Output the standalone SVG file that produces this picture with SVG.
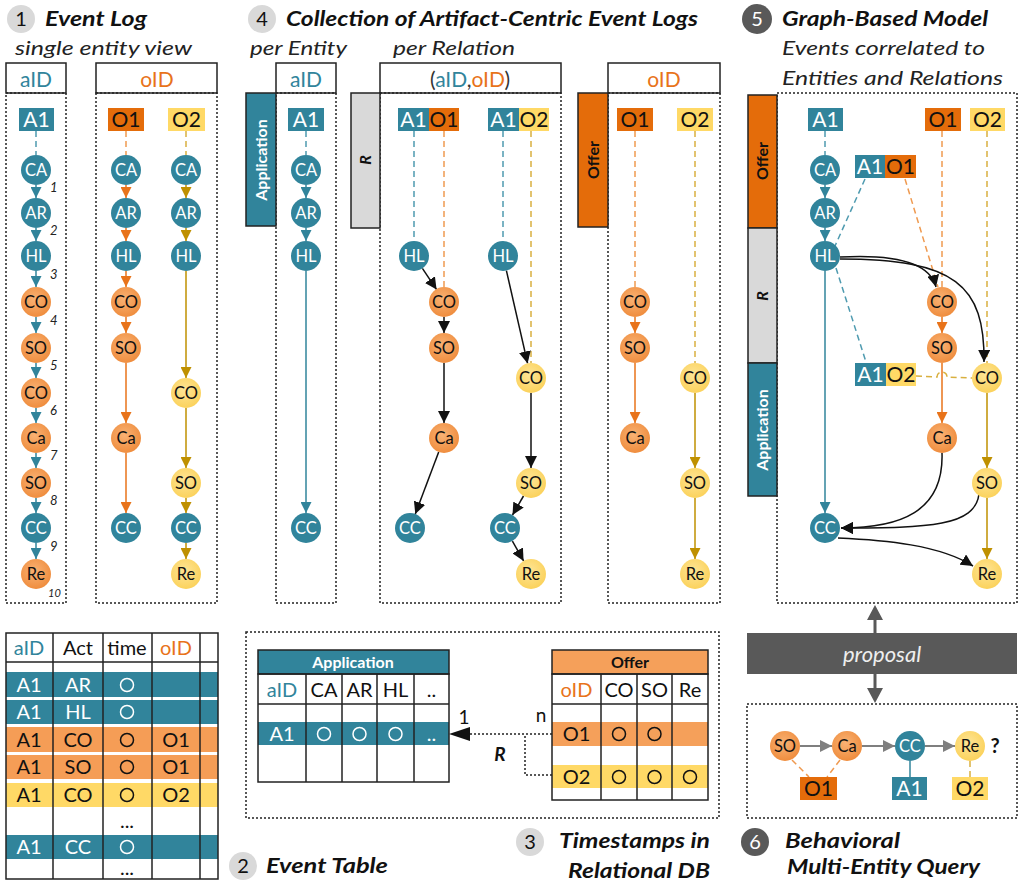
<svg xmlns="http://www.w3.org/2000/svg" width="1024" height="892" viewBox="0 0 1024 892">
<defs>
<style>
text{font-family:Lato,"Liberation Sans",sans-serif}
.ttl{font-size:20px;font-weight:bold;font-style:italic;fill:#111}
.sub{font-size:19px;font-style:italic;fill:#222}
.nt{font-size:16.5px;text-anchor:middle}
.lb{font-size:21px;text-anchor:middle}
.hd{font-size:21px;text-anchor:middle}
.tb{font-size:20px;text-anchor:middle}
.num{font-size:13px;font-style:italic;fill:#222}
.w{fill:#fff}.k{fill:#111}.ct{fill:#31849b}.co{fill:#e8731a}
.dot{fill:none;stroke:#222;stroke-width:1.5;stroke-dasharray:2 2}
.box{fill:#fff;stroke:#222;stroke-width:1.5}
.nT{fill:#31849b}.nO{fill:url(#gO)}.nY{fill:url(#gY)}
.lT{fill:#31849b}.lO{fill:#e46c0a}.lY{fill:#ffd966}
.aT{stroke:#31849b;stroke-width:1.5;fill:none;marker-end:url(#mT)}
.aO{stroke:#e8731a;stroke-width:1.5;fill:none;marker-end:url(#mO)}
.aY{stroke:#bf9000;stroke-width:1.5;fill:none;marker-end:url(#mY)}
.aK{stroke:#111;stroke-width:1.5;fill:none;marker-end:url(#mK)}
.aG{stroke:#7f7f7f;stroke-width:2;fill:none;marker-end:url(#mG)}
.dT{stroke:#4f9bb0;stroke-width:1.5;fill:none;stroke-dasharray:6 4}
.dO{stroke:#ef9a50;stroke-width:1.5;fill:none;stroke-dasharray:6 4}
.dY{stroke:#d9b040;stroke-width:1.5;fill:none;stroke-dasharray:6 4}
.bar{stroke:#222;stroke-width:1.5}
.bt{font-size:16px;font-weight:bold;text-anchor:middle}
.cir{fill:none;stroke-width:1.5}
</style>
<radialGradient id="gO" cx="0.45" cy="0.4" r="0.6"><stop offset="0" stop-color="#f9b274"/><stop offset="1" stop-color="#ef8d3e"/></radialGradient>
<radialGradient id="gY" cx="0.45" cy="0.4" r="0.6"><stop offset="0" stop-color="#fee596"/><stop offset="1" stop-color="#fbd25c"/></radialGradient>
<marker id="mT" viewBox="0 0 10 10" refX="10" refY="5" markerWidth="11" markerHeight="11" markerUnits="userSpaceOnUse" orient="auto"><path d="M0,0 L10,5 L0,10 z" fill="#31849b"/></marker>
<marker id="mO" viewBox="0 0 10 10" refX="10" refY="5" markerWidth="11" markerHeight="11" markerUnits="userSpaceOnUse" orient="auto"><path d="M0,0 L10,5 L0,10 z" fill="#e8731a"/></marker>
<marker id="mY" viewBox="0 0 10 10" refX="10" refY="5" markerWidth="11" markerHeight="11" markerUnits="userSpaceOnUse" orient="auto"><path d="M0,0 L10,5 L0,10 z" fill="#bf9000"/></marker>
<marker id="mK" viewBox="0 0 10 10" refX="10" refY="5" markerWidth="12" markerHeight="12" markerUnits="userSpaceOnUse" orient="auto"><path d="M0,0 L10,5 L0,10 z" fill="#111"/></marker>
<marker id="mG" viewBox="0 0 10 10" refX="10" refY="5" markerWidth="12" markerHeight="12" markerUnits="userSpaceOnUse" orient="auto"><path d="M0,0 L10,5 L0,10 z" fill="#7f7f7f"/></marker>
</defs>
<rect width="1024" height="892" fill="#fff"/>

<!-- ===== Section 1 frame ===== -->
<g id="sec1">
<circle cx="21" cy="19" r="14" fill="#d9d9d9"/>
<text x="21" y="26" font-size="20" text-anchor="middle" class="k">1</text>
<text x="45" y="26" class="ttl" textLength="102" lengthAdjust="spacingAndGlyphs">Event Log</text>
<text x="15" y="55" class="sub" textLength="177" lengthAdjust="spacingAndGlyphs">single entity view</text>
<rect x="6" y="63" width="60" height="30" class="box"/>
<text x="36" y="87" class="hd ct">aID</text>
<rect x="6" y="93" width="60" height="510" class="dot"/>
<rect x="96" y="63" width="121" height="30" class="box"/>
<text x="157" y="87" class="hd co">oID</text>
<rect x="96" y="93" width="121" height="510" class="dot"/>
<g class="num">
<text x="50" y="192">1</text><text x="50" y="235">2</text><text x="50" y="279">3</text>
<text x="50" y="325">4</text><text x="50" y="370">5</text><text x="50" y="415">6</text>
<text x="50" y="460">7</text><text x="50" y="505">8</text><text x="50" y="551">9</text>
<text x="48" y="597" font-size="11">10</text>
</g>
</g>

<!-- ===== Section 4 frame ===== -->
<g id="sec4">
<circle cx="262" cy="19" r="14" fill="#d9d9d9"/>
<text x="262" y="26" font-size="20" text-anchor="middle" class="k">4</text>
<text x="286" y="26" class="ttl" textLength="412" lengthAdjust="spacingAndGlyphs">Collection of Artifact-Centric Event Logs</text>
<text x="250" y="55" class="sub" textLength="97" lengthAdjust="spacingAndGlyphs">per Entity</text>
<text x="393" y="55" class="sub" textLength="122" lengthAdjust="spacingAndGlyphs">per Relation</text>
<rect x="276" y="63" width="60" height="30" class="box"/>
<text x="306" y="87" class="hd ct">aID</text>
<rect x="276" y="93" width="60" height="510" class="dot"/>
<rect x="246" y="93" width="30" height="133" class="bar" fill="#31849b"/>
<text transform="translate(261,160) rotate(-90)" y="6" class="bt w">Application</text>
<rect x="380" y="63" width="181" height="30" class="box"/>
<text x="470" y="87" class="hd"><tspan fill="#333">(</tspan><tspan class="ct">aID</tspan><tspan fill="#333">,</tspan><tspan class="co">oID</tspan><tspan fill="#333">)</tspan></text>
<rect x="380" y="93" width="181" height="510" class="dot"/>
<rect x="351" y="93" width="29" height="135" class="bar" fill="#d9d9d9"/>
<text transform="translate(365,160) rotate(-90)" y="6" class="bt k" font-style="italic">R</text>
<rect x="608" y="63" width="112" height="30" class="box"/>
<text x="664" y="87" class="hd co">oID</text>
<rect x="608" y="93" width="112" height="510" class="dot"/>
<rect x="578" y="93" width="30" height="134" class="bar" fill="#e46c0a"/>
<text transform="translate(593,160) rotate(-90)" y="6" class="bt k">Offer</text>
</g>

<!-- ===== Section 5 frame ===== -->
<g id="sec5">
<circle cx="757" cy="19" r="15" fill="#595959"/>
<text x="757" y="26" font-size="20" text-anchor="middle" class="w">5</text>
<text x="782" y="26" class="ttl" textLength="206" lengthAdjust="spacingAndGlyphs">Graph-Based Model</text>
<text x="782" y="55" class="sub" textLength="203" lengthAdjust="spacingAndGlyphs">Events correlated to</text>
<text x="782" y="85" class="sub" textLength="221" lengthAdjust="spacingAndGlyphs">Entities and Relations</text>
<rect x="777" y="93" width="240" height="510" class="dot"/>
<rect x="748" y="95" width="29" height="133" class="bar" fill="#e46c0a"/>
<text transform="translate(762,161) rotate(-90)" y="6" class="bt k">Offer</text>
<rect x="748" y="228" width="29" height="135" class="bar" fill="#d9d9d9"/>
<text transform="translate(762,296) rotate(-90)" y="6" class="bt k" font-style="italic">R</text>
<rect x="748" y="363" width="29" height="133" class="bar" fill="#31849b"/>
<text transform="translate(762,430) rotate(-90)" y="6" class="bt w">Application</text>
</g>

<!-- ===== proposal ===== -->
<g id="proposal">
<rect x="747" y="633" width="270" height="41" fill="#595959"/>
<text x="882" y="662" font-size="22" font-style="italic" text-anchor="middle" fill="#eee">proposal</text>
<line x1="875" y1="618" x2="875" y2="633" stroke="#595959" stroke-width="3"/>
<polygon points="875,605 867,620 883,620" fill="#595959"/>
<line x1="875" y1="674" x2="875" y2="689" stroke="#595959" stroke-width="3"/>
<polygon points="867,688 883,688 875,703" fill="#595959"/>
</g>

<!-- ===== Section 6 frame ===== -->
<g id="sec6">
<rect x="747" y="704" width="270" height="114" class="dot"/>
<text x="995" y="753" font-size="20" font-weight="bold" text-anchor="middle" class="k">?</text>
<circle cx="755" cy="842" r="14" fill="#595959"/>
<text x="755" y="849" font-size="20" text-anchor="middle" class="w">6</text>
<text x="785" y="848" class="ttl" textLength="115" lengthAdjust="spacingAndGlyphs">Behavioral</text>
<text x="787" y="874" class="ttl" textLength="193" lengthAdjust="spacingAndGlyphs">Multi-Entity Query</text>
</g>

<!-- ===== Section 2 table ===== -->
<g id="eventTable">
<rect x="6" y="672" width="212" height="25" fill="#31849b"/>
<rect x="6" y="700" width="212" height="24" fill="#31849b"/>
<rect x="6" y="727" width="212" height="25" fill="#f59d56"/>
<rect x="6" y="755" width="212" height="24" fill="#f59d56"/>
<rect x="6" y="783" width="212" height="24" fill="#ffd966"/>
<rect x="6" y="835" width="212" height="24" fill="#31849b"/>
<rect x="6" y="633" width="212" height="246" fill="none" stroke="#222" stroke-width="1.5"/>
<line x1="6" y1="662" x2="218" y2="662" stroke="#222" stroke-width="1.5"/>
<g stroke="#222" stroke-width="1.5">
<line x1="53" y1="633" x2="53" y2="879"/><line x1="103" y1="633" x2="103" y2="879"/>
<line x1="152" y1="633" x2="152" y2="879"/><line x1="200" y1="633" x2="200" y2="879"/>
</g>
<text x="29" y="655" class="tb ct">aID</text>
<text x="78" y="655" class="tb k" font-size="17">Act</text>
<text x="127" y="655" class="tb k" font-size="17">time</text>
<text x="176" y="655" class="tb co">oID</text>
<text x="29" y="692" class="tb w">A1</text><text x="78" y="692" class="tb w">AR</text>
<circle cx="127" cy="685" r="6.5" class="cir" stroke="#fff"/>
<text x="29" y="719" class="tb w">A1</text><text x="78" y="719" class="tb w">HL</text>
<circle cx="127" cy="712" r="6.5" class="cir" stroke="#fff"/>
<text x="29" y="747" class="tb k">A1</text><text x="78" y="747" class="tb k">CO</text>
<circle cx="127" cy="740" r="6.5" class="cir" stroke="#111"/>
<text x="176" y="747" class="tb k">O1</text>
<text x="29" y="774" class="tb k">A1</text><text x="78" y="774" class="tb k">SO</text>
<circle cx="127" cy="767" r="6.5" class="cir" stroke="#111"/>
<text x="176" y="774" class="tb k">O1</text>
<text x="29" y="802" class="tb k">A1</text><text x="78" y="802" class="tb k">CO</text>
<circle cx="127" cy="795" r="6.5" class="cir" stroke="#111"/>
<text x="176" y="802" class="tb k">O2</text>
<text x="127" y="828" class="tb k" font-size="16">...</text>
<text x="29" y="854" class="tb w">A1</text><text x="78" y="854" class="tb w">CC</text>
<circle cx="127" cy="847" r="6.5" class="cir" stroke="#fff"/>
<text x="127" y="875" class="tb k" font-size="16">...</text>
<circle cx="243" cy="866" r="14" fill="#d9d9d9"/>
<text x="243" y="873" font-size="20" text-anchor="middle" class="k">2</text>
<text x="266" y="873" class="ttl" textLength="122" lengthAdjust="spacingAndGlyphs">Event Table</text>
</g>

<!-- ===== Section 3 relational DB ===== -->
<g id="relationalDB">
<rect x="246" y="632" width="473" height="186" class="dot"/>
<circle cx="530" cy="842" r="14" fill="#d9d9d9"/>
<text x="530" y="849" font-size="20" text-anchor="middle" class="k">3</text>
<text x="559" y="848" class="ttl" textLength="151" lengthAdjust="spacingAndGlyphs">Timestamps in</text>
<text x="568" y="878" class="ttl" textLength="142" lengthAdjust="spacingAndGlyphs">Relational DB</text>
</g>
<g id="tableApplication">
<rect x="258" y="650" width="191" height="24" fill="#31849b" stroke="#222" stroke-width="1.5"/>
<text x="353" y="668" class="bt w">Application</text>
<rect x="258" y="722" width="191" height="23" fill="#31849b"/>
<rect x="258" y="674" width="191" height="108" fill="none" stroke="#222" stroke-width="1.5"/>
<line x1="258" y1="704" x2="449" y2="704" stroke="#222" stroke-width="1.5"/>
<g stroke="#222" stroke-width="1.5">
<line x1="306" y1="674" x2="306" y2="782"/><line x1="342" y1="674" x2="342" y2="782"/>
<line x1="377" y1="674" x2="377" y2="782"/><line x1="414" y1="674" x2="414" y2="782"/>
</g>
<text x="282" y="697" class="tb ct">aID</text>
<text x="324" y="697" class="tb k" font-size="17">CA</text>
<text x="359.5" y="697" class="tb k" font-size="17">AR</text>
<text x="395.5" y="697" class="tb k" font-size="17">HL</text>
<text x="431.5" y="697" class="tb k" font-size="17">..</text>
<text x="282" y="741" class="tb w">A1</text>
<circle cx="324" cy="734" r="6.5" class="cir" stroke="#fff"/>
<circle cx="359.5" cy="734" r="6.5" class="cir" stroke="#fff"/>
<circle cx="395.5" cy="734" r="6.5" class="cir" stroke="#fff"/>
<text x="431.5" y="741" class="tb w" font-size="17">..</text>
</g>
<g id="tableOffer">
<rect x="552" y="650" width="156" height="24" fill="#f5a05a" stroke="#222" stroke-width="1.5"/>
<text x="630" y="668" class="bt k">Offer</text>
<rect x="552" y="722" width="156" height="24" fill="#f5a05a"/>
<rect x="552" y="765" width="156" height="23" fill="#ffd966"/>
<rect x="552" y="674" width="156" height="126" fill="none" stroke="#222" stroke-width="1.5"/>
<line x1="552" y1="704" x2="708" y2="704" stroke="#222" stroke-width="1.5"/>
<g stroke="#222" stroke-width="1.5">
<line x1="601" y1="674" x2="601" y2="800"/><line x1="637" y1="674" x2="637" y2="800"/>
<line x1="672" y1="674" x2="672" y2="800"/>
</g>
<text x="576.5" y="697" class="tb co">oID</text>
<text x="619" y="697" class="tb k" font-size="17">CO</text>
<text x="654.5" y="697" class="tb k" font-size="17">SO</text>
<text x="690" y="697" class="tb k" font-size="17">Re</text>
<text x="576.5" y="741" class="tb k">O1</text>
<circle cx="619" cy="734" r="6.5" class="cir" stroke="#111"/>
<circle cx="654.5" cy="734" r="6.5" class="cir" stroke="#111"/>
<text x="576.5" y="784" class="tb k">O2</text>
<circle cx="619" cy="777" r="6.5" class="cir" stroke="#111"/>
<circle cx="654.5" cy="777" r="6.5" class="cir" stroke="#111"/>
<circle cx="690" cy="777" r="6.5" class="cir" stroke="#111"/>
</g>

<!-- ===== connectors ===== -->
<g id="connectors">
<line x1="36" y1="131" x2="36" y2="155" class="dT"/>
<line x1="126" y1="131" x2="126" y2="155" class="dO"/>
<line x1="186" y1="131" x2="186" y2="155" class="dY"/>
<line x1="36" y1="185" x2="36" y2="198" class="aT"/>
<line x1="36" y1="228" x2="36" y2="241" class="aT"/>
<line x1="36" y1="271" x2="36" y2="287" class="aT"/>
<line x1="36" y1="317" x2="36" y2="333" class="aT"/>
<line x1="36" y1="363" x2="36" y2="378" class="aT"/>
<line x1="36" y1="408" x2="36" y2="423" class="aT"/>
<line x1="36" y1="453" x2="36" y2="468" class="aT"/>
<line x1="36" y1="498" x2="36" y2="513" class="aT"/>
<line x1="36" y1="543" x2="36" y2="559" class="aT"/>
<line x1="126" y1="185" x2="126" y2="198" class="aO"/>
<line x1="126" y1="228" x2="126" y2="241" class="aO"/>
<line x1="126" y1="271" x2="126" y2="287" class="aO"/>
<line x1="126" y1="317" x2="126" y2="333" class="aO"/>
<line x1="126" y1="363" x2="126" y2="423" class="aO"/>
<line x1="126" y1="453" x2="126" y2="513" class="aO"/>
<line x1="186" y1="185" x2="186" y2="198" class="aY"/>
<line x1="186" y1="228" x2="186" y2="241" class="aY"/>
<line x1="186" y1="271" x2="186" y2="378" class="aY"/>
<line x1="186" y1="408" x2="186" y2="468" class="aY"/>
<line x1="186" y1="498" x2="186" y2="513" class="aY"/>
<line x1="186" y1="543" x2="186" y2="559" class="aY"/>
<line x1="306" y1="131" x2="306" y2="155" class="dT"/>
<line x1="306" y1="185" x2="306" y2="198" class="aT"/>
<line x1="306" y1="228" x2="306" y2="241" class="aT"/>
<line x1="306" y1="271" x2="306" y2="513" class="aT"/>
<line x1="414" y1="131" x2="414" y2="241" class="dT"/>
<line x1="444" y1="131" x2="444" y2="287" class="dO"/>
<line x1="422.4" y1="268.4" x2="436.6" y2="289.6" class="aK"/>
<line x1="444" y1="317" x2="444" y2="333" class="aK"/>
<line x1="444" y1="363" x2="444" y2="423" class="aK"/>
<line x1="438.7" y1="452" x2="415.3" y2="514" class="aK"/>
<line x1="503" y1="131" x2="503" y2="241" class="dT"/>
<line x1="531" y1="131" x2="531" y2="363" class="dY"/>
<line x1="506.4" y1="270.6" x2="527.6" y2="363.4" class="aK"/>
<line x1="531" y1="393" x2="531" y2="468" class="aK"/>
<line x1="523.5" y1="496" x2="512.5" y2="515" class="aK"/>
<line x1="512.4" y1="541.1" x2="523.6" y2="560.9" class="aK"/>
<line x1="635" y1="131" x2="635" y2="287" class="dO"/>
<line x1="695" y1="131" x2="695" y2="363" class="dY"/>
<line x1="635" y1="317" x2="635" y2="333" class="aO"/>
<line x1="635" y1="363" x2="635" y2="423" class="aO"/>
<line x1="695" y1="393" x2="695" y2="468" class="aY"/>
<line x1="695" y1="498" x2="695" y2="559" class="aY"/>
<line x1="825" y1="131" x2="825" y2="155" class="dT"/>
<line x1="942" y1="131" x2="942" y2="287" class="dO"/>
<line x1="987" y1="131" x2="987" y2="363" class="dY"/>
<line x1="865" y1="179" x2="835" y2="246" class="dT"/>
<line x1="905" y1="179" x2="938" y2="287" class="dO"/>
<line x1="836" y1="268" x2="866" y2="362" class="dT"/>
<path d="M916,376 L937,377 A5,5 0 0 1 947,377 L972,378" class="dY"/>
<line x1="825" y1="185" x2="825" y2="198" class="aT"/>
<line x1="825" y1="228" x2="825" y2="241" class="aT"/>
<line x1="825" y1="271" x2="825" y2="513" class="aT"/>
<line x1="942" y1="317" x2="942" y2="333" class="aO"/>
<line x1="942" y1="363" x2="942" y2="423" class="aO"/>
<line x1="987" y1="393" x2="987" y2="468" class="aY"/>
<line x1="987" y1="498" x2="987" y2="559" class="aY"/>
<path d="M840,257 C895,254 930,262 936,287" class="aK"/>
<path d="M840,259 C955,259 985,285 984,362" class="aK"/>
<path d="M942,453 C944,512 900,528 841,528" class="aK"/>
<path d="M979,494 C975,526 930,528 841,528" class="aK"/>
<path d="M838,538 C885,540 940,545 973,566" class="aK"/>
<line x1="800" y1="746" x2="832" y2="746" class="aG"/>
<line x1="862" y1="746" x2="895" y2="746" class="aG"/>
<line x1="925" y1="746" x2="955" y2="746" class="aG"/>
<line x1="792" y1="760" x2="809" y2="777" class="dO"/>
<line x1="840" y1="760" x2="827" y2="777" class="dO"/>
<line x1="910" y1="761" x2="910" y2="777" stroke="#31849b" stroke-width="1.5"/>
<line x1="970" y1="761" x2="970" y2="777" class="dY"/>
<line x1="470" y1="734" x2="552" y2="734" class="dot"/>
<path d="M552,775 L525,775 L525,734" class="dot"/>
<polygon points="449,734 470,727 470,741" fill="#111"/>
<text x="464" y="724" font-size="19" text-anchor="middle" class="k">1</text>
<text x="541" y="722" font-size="19" text-anchor="middle" class="k">n</text>
<text x="500" y="761" font-size="19" font-weight="bold" font-style="italic" text-anchor="middle" class="k">R</text>
</g>

<!-- ===== labels ===== -->
<g id="s1-A1"><rect x="19" y="108" width="35" height="23" class="lT"/><text x="36.5" y="127" class="lb w">A1</text></g>
<g id="s1-O1"><rect x="108" y="108" width="36" height="23" class="lO"/><text x="126" y="127" class="lb k">O1</text></g>
<g id="s1-O2"><rect x="168" y="108" width="37" height="23" class="lY"/><text x="186.5" y="127" class="lb k">O2</text></g>
<g id="s4-A1"><rect x="288" y="108" width="36" height="23" class="lT"/><text x="306" y="127" class="lb w">A1</text></g>
<g id="s4-A1O1"><rect x="398" y="108" width="31" height="23" class="lT"/><text x="413.5" y="127" class="lb w">A1</text><rect x="429" y="108" width="30" height="23" class="lO"/><text x="444" y="127" class="lb k">O1</text></g>
<g id="s4-A1O2"><rect x="488" y="108" width="31" height="23" class="lT"/><text x="503.5" y="127" class="lb w">A1</text><rect x="519" y="108" width="30" height="23" class="lY"/><text x="534" y="127" class="lb k">O2</text></g>
<g id="s4-O1"><rect x="617" y="108" width="36" height="23" class="lO"/><text x="635" y="127" class="lb k">O1</text></g>
<g id="s4-O2"><rect x="677" y="108" width="36" height="23" class="lY"/><text x="695" y="127" class="lb k">O2</text></g>
<g id="s5-A1"><rect x="808" y="108" width="35" height="23" class="lT"/><text x="825.5" y="127" class="lb w">A1</text></g>
<g id="s5-O1"><rect x="925" y="108" width="36" height="23" class="lO"/><text x="943" y="127" class="lb k">O1</text></g>
<g id="s5-O2"><rect x="970" y="108" width="35" height="23" class="lY"/><text x="987.5" y="127" class="lb k">O2</text></g>
<g id="s5-A1O1"><rect x="855" y="155" width="30" height="23" class="lT"/><text x="870" y="174" class="lb w">A1</text><rect x="885" y="155" width="31" height="23" class="lO"/><text x="900.5" y="174" class="lb k">O1</text></g>
<g id="s5-A1O2"><rect x="855" y="363" width="31" height="23" class="lT"/><text x="870.5" y="382" class="lb w">A1</text><rect x="886" y="363" width="30" height="23" class="lY"/><text x="901" y="382" class="lb k">O2</text></g>
<g id="s6-O1"><rect x="800" y="777" width="37" height="23" class="lO"/><text x="818.5" y="796" class="lb k">O1</text></g>
<g id="s6-A1"><rect x="892" y="777" width="35" height="23" class="lT"/><text x="909.5" y="796" class="lb w">A1</text></g>
<g id="s6-O2"><rect x="952" y="777" width="36" height="23" class="lY"/><text x="970" y="796" class="lb k">O2</text></g>

<!-- ===== nodes section 1 ===== -->
<g id="s1a-CA"><circle cx="36" cy="170" r="15" class="nT"/><text x="36" y="176" class="nt w">CA</text></g>
<g id="s1a-AR"><circle cx="36" cy="213" r="15" class="nT"/><text x="36" y="219" class="nt w">AR</text></g>
<g id="s1a-HL"><circle cx="36" cy="256" r="15" class="nT"/><text x="36" y="262" class="nt w">HL</text></g>
<g id="s1a-CO1"><circle cx="36" cy="302" r="15" class="nO"/><text x="36" y="308" class="nt k">CO</text></g>
<g id="s1a-SO1"><circle cx="36" cy="348" r="15" class="nO"/><text x="36" y="354" class="nt k">SO</text></g>
<g id="s1a-CO2"><circle cx="36" cy="393" r="15" class="nO"/><text x="36" y="399" class="nt k">CO</text></g>
<g id="s1a-Ca"><circle cx="36" cy="438" r="15" class="nO"/><text x="36" y="444" class="nt k">Ca</text></g>
<g id="s1a-SO2"><circle cx="36" cy="483" r="15" class="nO"/><text x="36" y="489" class="nt k">SO</text></g>
<g id="s1a-CC"><circle cx="36" cy="528" r="15" class="nT"/><text x="36" y="534" class="nt w">CC</text></g>
<g id="s1a-Re"><circle cx="36" cy="574" r="15" class="nO"/><text x="36" y="580" class="nt k">Re</text></g>
<g id="s1o1-CA"><circle cx="126" cy="170" r="15" class="nT"/><text x="126" y="176" class="nt w">CA</text></g>
<g id="s1o1-AR"><circle cx="126" cy="213" r="15" class="nT"/><text x="126" y="219" class="nt w">AR</text></g>
<g id="s1o1-HL"><circle cx="126" cy="256" r="15" class="nT"/><text x="126" y="262" class="nt w">HL</text></g>
<g id="s1o1-CO"><circle cx="126" cy="302" r="15" class="nO"/><text x="126" y="308" class="nt k">CO</text></g>
<g id="s1o1-SO"><circle cx="126" cy="348" r="15" class="nO"/><text x="126" y="354" class="nt k">SO</text></g>
<g id="s1o1-Ca"><circle cx="126" cy="438" r="15" class="nO"/><text x="126" y="444" class="nt k">Ca</text></g>
<g id="s1o1-CC"><circle cx="126" cy="528" r="15" class="nT"/><text x="126" y="534" class="nt w">CC</text></g>
<g id="s1o2-CA"><circle cx="186" cy="170" r="15" class="nT"/><text x="186" y="176" class="nt w">CA</text></g>
<g id="s1o2-AR"><circle cx="186" cy="213" r="15" class="nT"/><text x="186" y="219" class="nt w">AR</text></g>
<g id="s1o2-HL"><circle cx="186" cy="256" r="15" class="nT"/><text x="186" y="262" class="nt w">HL</text></g>
<g id="s1o2-CO"><circle cx="186" cy="393" r="15" class="nY"/><text x="186" y="399" class="nt k">CO</text></g>
<g id="s1o2-SO"><circle cx="186" cy="483" r="15" class="nY"/><text x="186" y="489" class="nt k">SO</text></g>
<g id="s1o2-CC"><circle cx="186" cy="528" r="15" class="nT"/><text x="186" y="534" class="nt w">CC</text></g>
<g id="s1o2-Re"><circle cx="186" cy="574" r="15" class="nY"/><text x="186" y="580" class="nt k">Re</text></g>

<!-- ===== nodes section 4 ===== -->
<g id="s4e-CA"><circle cx="306" cy="170" r="15" class="nT"/><text x="306" y="176" class="nt w">CA</text></g>
<g id="s4e-AR"><circle cx="306" cy="213" r="15" class="nT"/><text x="306" y="219" class="nt w">AR</text></g>
<g id="s4e-HL"><circle cx="306" cy="256" r="15" class="nT"/><text x="306" y="262" class="nt w">HL</text></g>
<g id="s4e-CC"><circle cx="306" cy="528" r="15" class="nT"/><text x="306" y="534" class="nt w">CC</text></g>
<g id="s4r1-HL"><circle cx="414" cy="256" r="15" class="nT"/><text x="414" y="262" class="nt w">HL</text></g>
<g id="s4r1-CO"><circle cx="444" cy="302" r="15" class="nO"/><text x="444" y="308" class="nt k">CO</text></g>
<g id="s4r1-SO"><circle cx="444" cy="348" r="15" class="nO"/><text x="444" y="354" class="nt k">SO</text></g>
<g id="s4r1-Ca"><circle cx="444" cy="438" r="15" class="nO"/><text x="444" y="444" class="nt k">Ca</text></g>
<g id="s4r1-CC"><circle cx="410" cy="528" r="15" class="nT"/><text x="410" y="534" class="nt w">CC</text></g>
<g id="s4r2-HL"><circle cx="503" cy="256" r="15" class="nT"/><text x="503" y="262" class="nt w">HL</text></g>
<g id="s4r2-CO"><circle cx="531" cy="378" r="15" class="nY"/><text x="531" y="384" class="nt k">CO</text></g>
<g id="s4r2-SO"><circle cx="531" cy="483" r="15" class="nY"/><text x="531" y="489" class="nt k">SO</text></g>
<g id="s4r2-CC"><circle cx="505" cy="528" r="15" class="nT"/><text x="505" y="534" class="nt w">CC</text></g>
<g id="s4r2-Re"><circle cx="531" cy="574" r="15" class="nY"/><text x="531" y="580" class="nt k">Re</text></g>
<g id="s4o1-CO"><circle cx="635" cy="302" r="15" class="nO"/><text x="635" y="308" class="nt k">CO</text></g>
<g id="s4o1-SO"><circle cx="635" cy="348" r="15" class="nO"/><text x="635" y="354" class="nt k">SO</text></g>
<g id="s4o1-Ca"><circle cx="635" cy="438" r="15" class="nO"/><text x="635" y="444" class="nt k">Ca</text></g>
<g id="s4o2-CO"><circle cx="695" cy="378" r="15" class="nY"/><text x="695" y="384" class="nt k">CO</text></g>
<g id="s4o2-SO"><circle cx="695" cy="483" r="15" class="nY"/><text x="695" y="489" class="nt k">SO</text></g>
<g id="s4o2-Re"><circle cx="695" cy="574" r="15" class="nY"/><text x="695" y="580" class="nt k">Re</text></g>

<!-- ===== nodes section 5 ===== -->
<g id="s5-CA"><circle cx="825" cy="170" r="15" class="nT"/><text x="825" y="176" class="nt w">CA</text></g>
<g id="s5-AR"><circle cx="825" cy="213" r="15" class="nT"/><text x="825" y="219" class="nt w">AR</text></g>
<g id="s5-HL"><circle cx="825" cy="256" r="15" class="nT"/><text x="825" y="262" class="nt w">HL</text></g>
<g id="s5-CC"><circle cx="825" cy="528" r="15" class="nT"/><text x="825" y="534" class="nt w">CC</text></g>
<g id="s5-CO1"><circle cx="942" cy="302" r="15" class="nO"/><text x="942" y="308" class="nt k">CO</text></g>
<g id="s5-SO1"><circle cx="942" cy="348" r="15" class="nO"/><text x="942" y="354" class="nt k">SO</text></g>
<g id="s5-Ca"><circle cx="942" cy="438" r="15" class="nO"/><text x="942" y="444" class="nt k">Ca</text></g>
<g id="s5-CO2"><circle cx="987" cy="378" r="15" class="nY"/><text x="987" y="384" class="nt k">CO</text></g>
<g id="s5-SO2"><circle cx="987" cy="483" r="15" class="nY"/><text x="987" y="489" class="nt k">SO</text></g>
<g id="s5-Re"><circle cx="987" cy="574" r="15" class="nY"/><text x="987" y="580" class="nt k">Re</text></g>

<!-- ===== nodes section 6 ===== -->
<g id="s6-SO"><circle cx="785" cy="746" r="15" class="nO"/><text x="785" y="752" class="nt k">SO</text></g>
<g id="s6-Ca"><circle cx="847" cy="746" r="15" class="nO"/><text x="847" y="752" class="nt k">Ca</text></g>
<g id="s6-CC"><circle cx="910" cy="746" r="15" class="nT"/><text x="910" y="752" class="nt w">CC</text></g>
<g id="s6-Re"><circle cx="970" cy="746" r="15" class="nY"/><text x="970" y="752" class="nt k">Re</text></g>
</svg>
